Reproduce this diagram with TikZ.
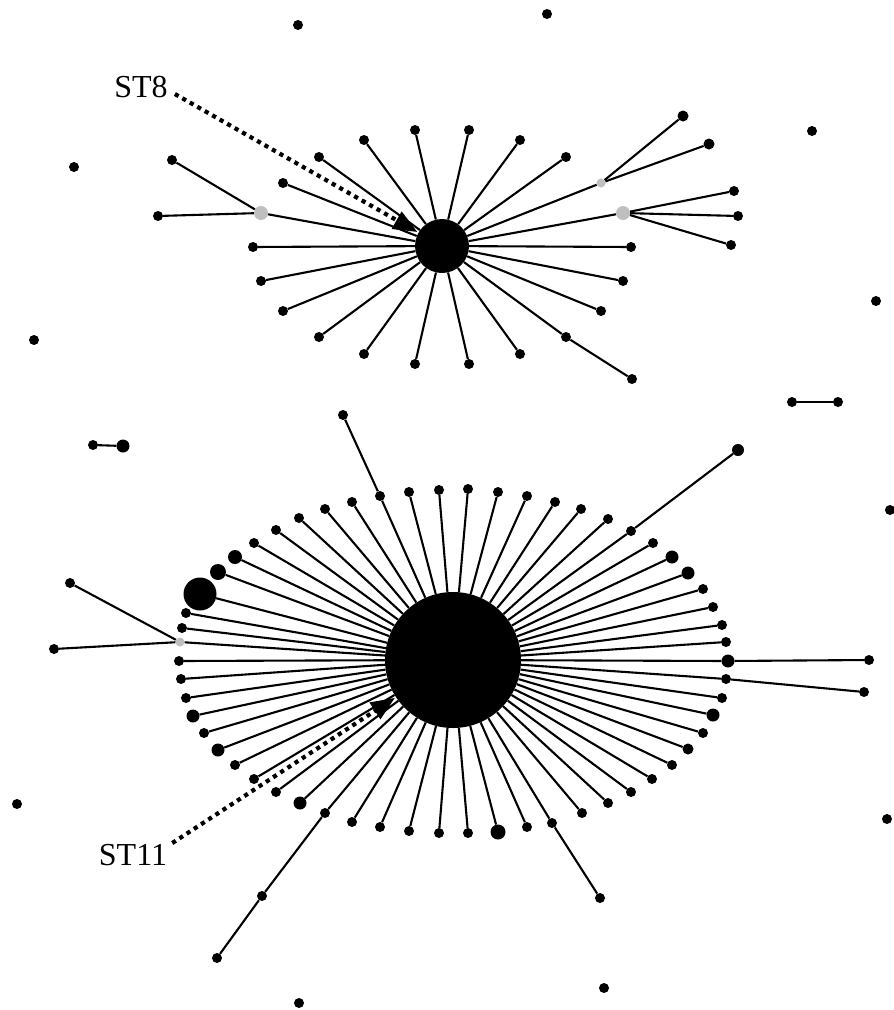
\documentclass[tikz,border=0pt]{standalone}
\usepackage{fontspec}
\setmainfont{Liberation Serif}
\usetikzlibrary{arrows.meta}
\begin{document}
\begin{tikzpicture}[x=1pt,y=-1pt,
 leaf/.style={circle,fill=black,draw=none,inner sep=0pt,minimum size=#1},
 leaf/.default=10pt,
 gleaf/.style={circle,fill=black!25,draw=none,inner sep=0pt,minimum size=#1},
 gleaf/.default=10pt,
 hubnode/.style={circle,fill=black,draw=none,inner sep=0pt,minimum size=#1},
 edge/.style={line width=2.1pt,black},
 pointer/.style={line width=4.2pt,dash pattern=on 4.2pt off 4.4pt,shorten >=1pt,-{Triangle[length=24pt,width=19pt]}},
 lbl/.style={font=\fontsize{32}{36}\selectfont,inner sep=1pt}]
\useasboundingbox (0,0) rectangle (894,1010);

% ---------- upper cluster ----------
\node[hubnode=54pt] (H1) at (442,246) {};
\foreach \x/\y [count=\i] in {415/130,364/140,319/157,283/183,253/247,261/281,283/311,319/337,364/354,415/364,469/364,520/354,566/337,601/311,623/281,631/247,566/157,520/140,469/130}
  {\node[leaf] (t\i) at (\x,\y) {};
   \draw[edge] (H1) -- (t\i);}
\node[gleaf=14pt] (g1) at (261,213) {};
\node[gleaf=14pt] (g2) at (623,213) {};
\node[gleaf=9pt] (g3) at (601,183) {};
\foreach \g in {g1,g2,g3} \draw[edge] (H1) -- (\g);
\node[leaf] (u1) at (172,160) {};
\node[leaf] (u2) at (158,216) {};
\draw[edge] (g1) -- (u1); \draw[edge] (g1) -- (u2);
\node[leaf] (u3) at (734,191) {};
\node[leaf] (u4) at (738,216) {};
\node[leaf] (u5) at (731,245) {};
\draw[edge] (g2) -- (u3); \draw[edge] (g2) -- (u4); \draw[edge] (g2) -- (u5);
\node[leaf=11pt] (u6) at (683,116) {};
\node[leaf=11pt] (u7) at (709,144) {};
\draw[edge] (g3) -- (u6); \draw[edge] (g3) -- (u7);
\node[leaf] (u8) at (632,379) {};
\draw[edge] (t13) -- (u8);

% ---------- lower cluster ----------
\node[hubnode=136pt] (H2) at (453,660) {};
\foreach \x/\y/\s [count=\i] in {179/661/10,182/628/10,186/613/10,200/594/33,218/572/16,235/557/14,254/543/10,276/530/10,299/518/10,325/509/10,352/502/10,380/496/10,409/492/10,439/490/10,468/489/10,498/492/10,527/496/10,555/502/10,581/509/10,608/519/10,631/531/10,653/543/10,672/557/13,688/573/13,703/589/10,713/607/10,722/625/10,726/642/10,728/661/13,726/679/10,722/698/10,713/715/13,703/733/10,688/749/11,672/765/10,652/779/10,631/792/10,608/803/10,582/813/10,552/823/10,527/827/10,498/832/15,468/833/10,439/833/10,409/831/10,380/827/10,352/822/10,325/813/10,300/803/13,276/792/10,254/779/10,235/765/10,218/750/13,204/733/10,193/716/13,186/698/10,181/679/10}
  {\node[leaf=\s pt] (r\i) at (\x,\y) {};
   \draw[edge] (H2) -- (r\i);}
\node[gleaf=9pt] (rg) at (180,642) {};
\draw[edge] (H2) -- (rg);
\node[leaf] (c8) at (70,583) {};
\node[leaf] (c9) at (54,649) {};
\draw[edge] (rg) -- (c8); \draw[edge] (rg) -- (c9);
\node[leaf] (c1) at (343,415) {};
\draw[edge] (r12) -- (c1);
\node[leaf=12pt] (c2) at (738,450) {};
\draw[edge] (r21) -- (c2);
\node[leaf] (c3) at (869,660) {};
\draw[edge] (r29) -- (c3);
\node[leaf] (c4) at (864,692) {};
\draw[edge] (r30) -- (c4);
\node[leaf] (c5) at (600,898) {};
\draw[edge] (r40) -- (c5);
\node[leaf] (c6) at (262,896) {};
\node[leaf] (c7) at (217,958) {};
\draw[edge] (r48) -- (c6) -- (c7);

% ---------- pairs ----------
\node[leaf] (p1) at (93,445) {};
\node[leaf=13pt] (p2) at (123,446) {};
\draw[edge] (p1) -- (p2);
\node[leaf] (p3) at (792,402) {};
\node[leaf] (p4) at (838,402) {};
\draw[edge] (p3) -- (p4);

% ---------- isolated ----------
\foreach \x/\y [count=\i] in {298/25,547/14,74/167,34/340,812/131,876/301,890/510,17/804,887/819,299/1003,604/988}
  \node[leaf] (s\i) at (\x,\y) {};

% ---------- labels ----------
\node[lbl] (st8) at (141,87) {ST8};
\node[lbl] (st11) at (133,855) {ST11};
\draw[pointer] ([xshift=6pt,yshift=-7pt]st8.east) -- (H1);
\draw[pointer] ([xshift=4pt]st11.north east) -- (H2);
\end{tikzpicture}
\end{document}
